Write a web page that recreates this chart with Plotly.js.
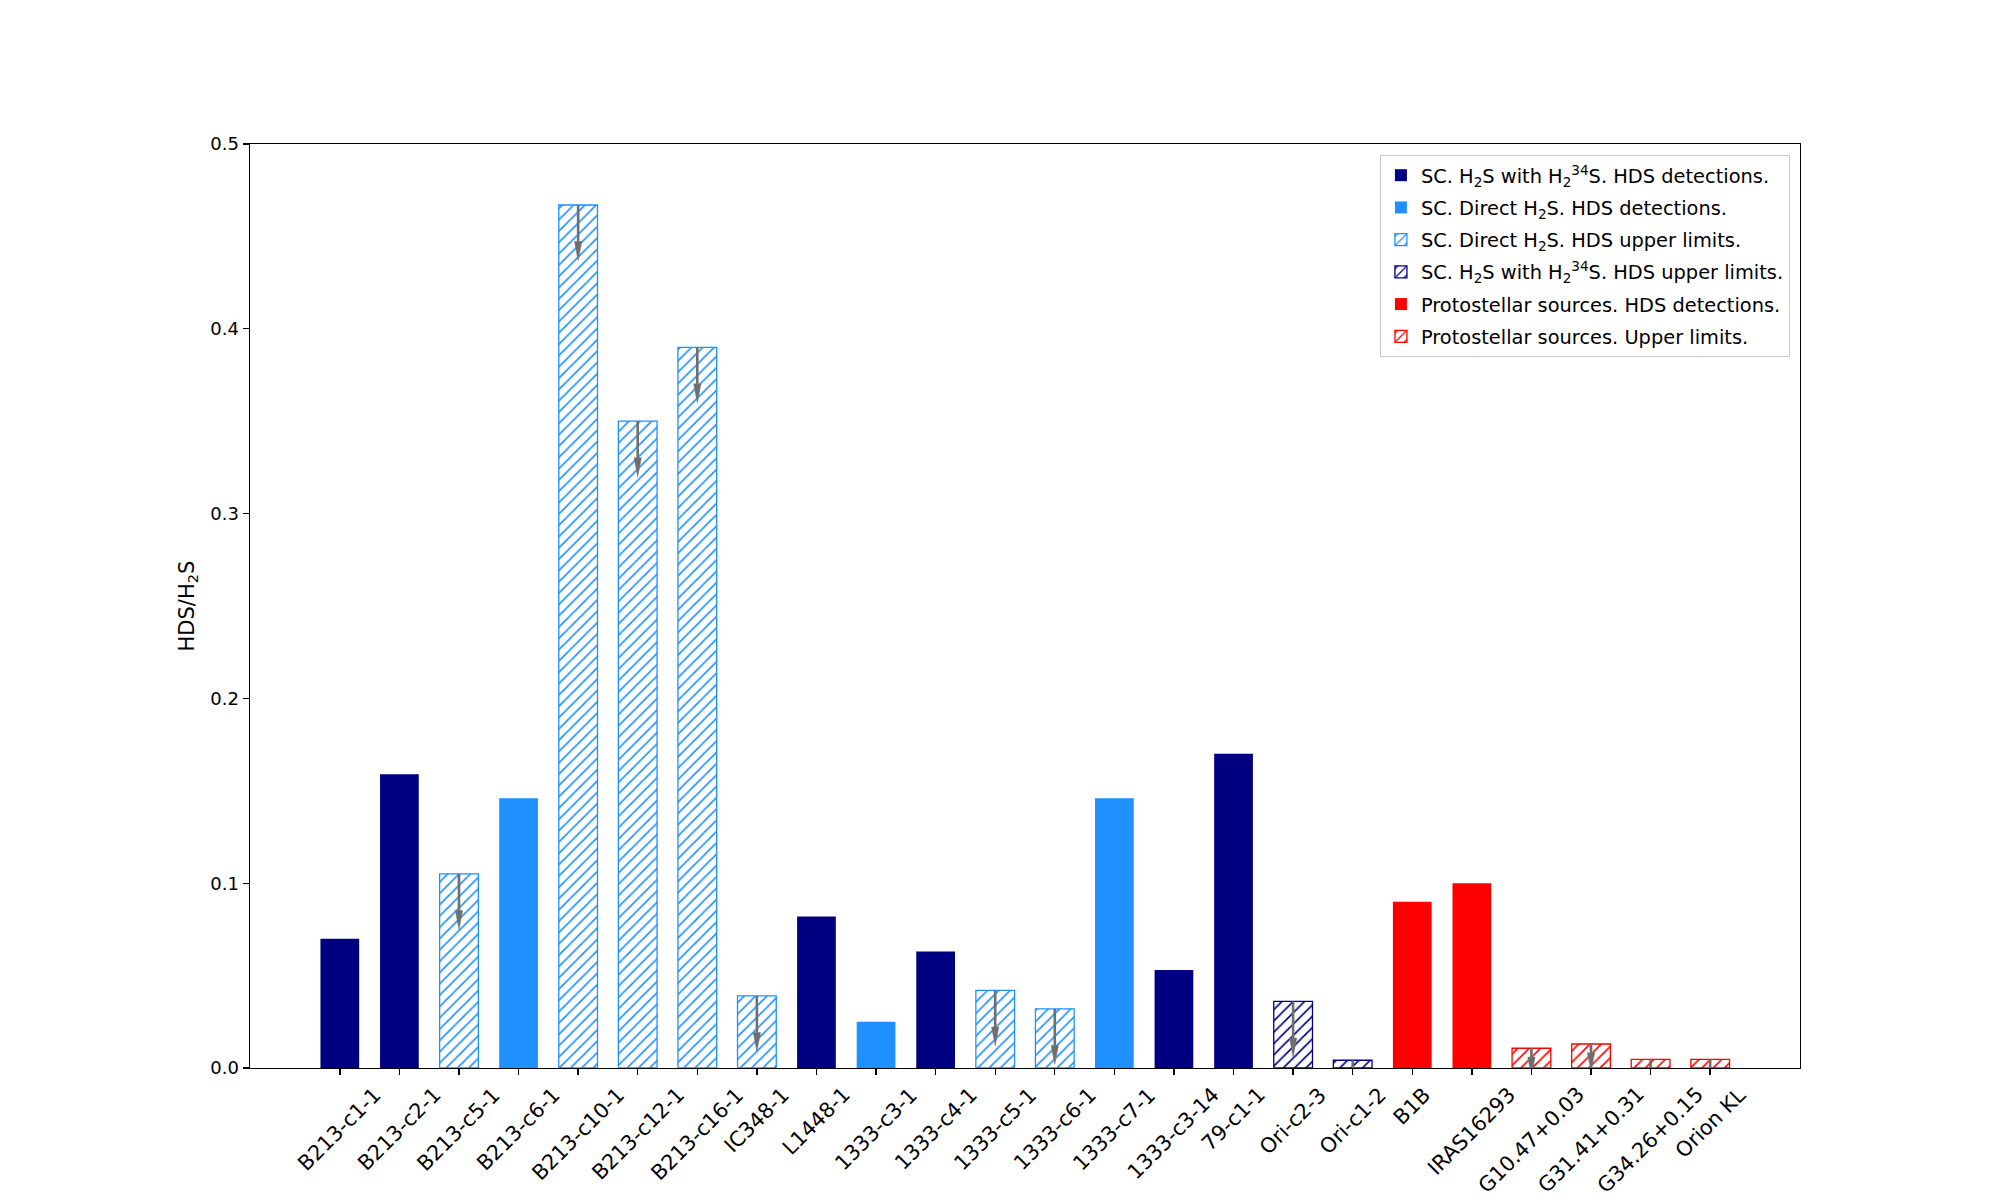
<!DOCTYPE html>
<html>
<head>
<meta charset="utf-8">
<script src="https://cdn.plot.ly/plotly-3.0.1.min.js"></script>
<style>
  body { margin: 0; background: white; }
  #chart { width: 2000px; height: 1200px; }
</style>
</head>
<body>
<div id="chart"></div>
<script>
// sources along the x axis
const sources = ['B213-c1-1', 'B213-c2-1', 'B213-c5-1', 'B213-c6-1', 'B213-c10-1',
    'B213-c12-1', 'B213-c16-1', 'IC348-1', 'L1448-1', '1333-c3-1', '1333-c4-1',
    '1333-c5-1', '1333-c6-1', '1333-c7-1', '1333-c3-14', '79-c1-1', 'Ori-c2-3',
    'Ori-c1-2', 'B1B', 'IRAS16293', 'G10.47+0.03', 'G31.41+0.31', 'G34.26+0.15', 'Orion KL']

// HDS/H2S ratio (upper limit where the bar is hatched)
const ratio = [0.070, 0.159, 0.105, 0.146, 0.467, 0.350, 0.390, 0.039, 0.082, 0.025,
    0.063, 0.042, 0.032, 0.146, 0.053, 0.170, 0.036, 0.0042, 0.090, 0.100,
    0.0107, 0.013, 0.0047, 0.0047]

// which legend group each source belongs to
const group = ['h34det', 'h34det', 'dirlim', 'dirdet', 'dirlim', 'dirlim', 'dirlim', 'dirlim',
    'h34det', 'dirdet', 'h34det', 'dirlim', 'dirlim', 'dirdet', 'h34det', 'h34det',
    'h34lim', 'h34lim', 'protodet', 'protodet', 'protolim', 'protolim', 'protolim', 'protolim']

// length of the upper-limit arrow (null = detection, no arrow)
const arrowLength = [null, null, 0.03, null, 0.03, 0.03, 0.03, 0.03, null, null, null,
    0.03, 0.03, null, null, null, 0.03, 0.03, null, null, 0.015, 0.015, 0.015, 0.015]

const legendGroups = [
    {key: 'h34det', name: 'SC. H<sub>2</sub>S with H<sub>2</sub><sup>34</sup>S. HDS detections.', color: '#000080', hatch: false},
    {key: 'dirdet', name: 'SC. Direct H<sub>2</sub>S. HDS detections.', color: '#1E90FF', hatch: false},
    {key: 'dirlim', name: 'SC. Direct H<sub>2</sub>S. HDS upper limits.', color: '#1E90FF', hatch: true},
    {key: 'h34lim', name: 'SC. H<sub>2</sub>S with H<sub>2</sub><sup>34</sup>S. HDS upper limits.', color: '#000080', hatch: true},
    {key: 'protodet', name: 'Protostellar sources. HDS detections.', color: '#FF0000', hatch: false},
    {key: 'protolim', name: 'Protostellar sources. Upper limits.', color: '#FF0000', hatch: true},
]

const FONT = 'DejaVu Sans'
const barWidth = 0.65
const arrowColor = '#6e6e6e'
const headLength = 0.0102
const headHalfWidth = 0.061

const xIndex = sources.map((s, i) => i)

const traces = legendGroups.map(g => {
    const idx = xIndex.filter(i => group[i] === g.key)
    const marker = g.hatch ? {
        color: 'white',
        pattern: {shape: '/', fgcolor: g.color, bgcolor: 'white', size: 8, solidity: 0.2},
        line: {color: g.color, width: 1.3}
    } : {color: g.color, line: {width: 0}}
    return {
        type: 'bar',
        x: idx,
        y: idx.map(i => ratio[i]),
        width: barWidth,
        name: g.name,
        legendgroup: g.key,
        marker: marker,
        hoverinfo: 'skip'
    }
})

// arrows on the upper limits
const shaftX = [], shaftY = [], headX = [], headY = []
xIndex.forEach(i => {
    if (arrowLength[i] === null) return
    const tip = ratio[i] - arrowLength[i]
    const base = tip + headLength
    shaftX.push(i, i, null)
    shaftY.push(ratio[i], base, null)
    headX.push(i - headHalfWidth, i + headHalfWidth, i, i - headHalfWidth, null)
    headY.push(base, base, tip, base, null)
})

traces.push({
    type: 'scatter', mode: 'lines', x: shaftX, y: shaftY,
    line: {color: arrowColor, width: 2.6}, showlegend: false, hoverinfo: 'skip'
})
traces.push({
    type: 'scatter', mode: 'lines', x: headX, y: headY, fill: 'toself',
    fillcolor: arrowColor, line: {color: arrowColor, width: 0.5},
    showlegend: false, hoverinfo: 'skip'
})

const tickLabels = sources.map((s, i) => ({
    text: s,
    x: i, xref: 'x',
    y: 0, yref: 'paper',
    yshift: -12,
    xanchor: 'center', yanchor: 'top',
    textangle: -45,
    showarrow: false,
    font: {family: FONT, size: 20.8, color: 'black'}
}))

const layout = {
    width: 2000,
    height: 1200,
    margin: {l: 250, r: 200, t: 144, b: 132},
    paper_bgcolor: 'white',
    plot_bgcolor: 'white',
    font: {family: FONT, size: 18, color: 'black'},
    barmode: 'overlay',
    showlegend: true,
    xaxis: {
        range: [-1.5075, 24.5075],
        tickvals: xIndex,
        showticklabels: false,
        ticks: 'outside', ticklen: 6, tickwidth: 1.4, tickcolor: 'black',
        showline: true, linecolor: 'black', linewidth: 1.4, mirror: true,
        showgrid: false, zeroline: false
    },
    yaxis: {
        range: [0, 0.5],
        tickvals: [0, 0.1, 0.2, 0.3, 0.4, 0.5],
        tickformat: '.1f',
        tickfont: {family: FONT, size: 18},
        ticks: 'outside', ticklen: 6, tickwidth: 1.4, tickcolor: 'black',
        showline: true, linecolor: 'black', linewidth: 1.4, mirror: true,
        showgrid: false, zeroline: false,
        title: {text: 'HDS/H<sub>2</sub>S', standoff: 10, font: {family: FONT, size: 21}}
    },
    legend: {
        x: 0.9935, xanchor: 'right',
        y: 0.988, yanchor: 'top',
        bgcolor: 'rgba(255,255,255,0.8)',
        bordercolor: '#cccccc', borderwidth: 1,
        font: {family: FONT, size: 19.4, color: 'black'},
        traceorder: 'grouped',
        tracegroupgap: 4
    },
    annotations: tickLabels
}

Plotly.newPlot('chart', traces, layout, {staticPlot: true})
</script>
</body>
</html>
